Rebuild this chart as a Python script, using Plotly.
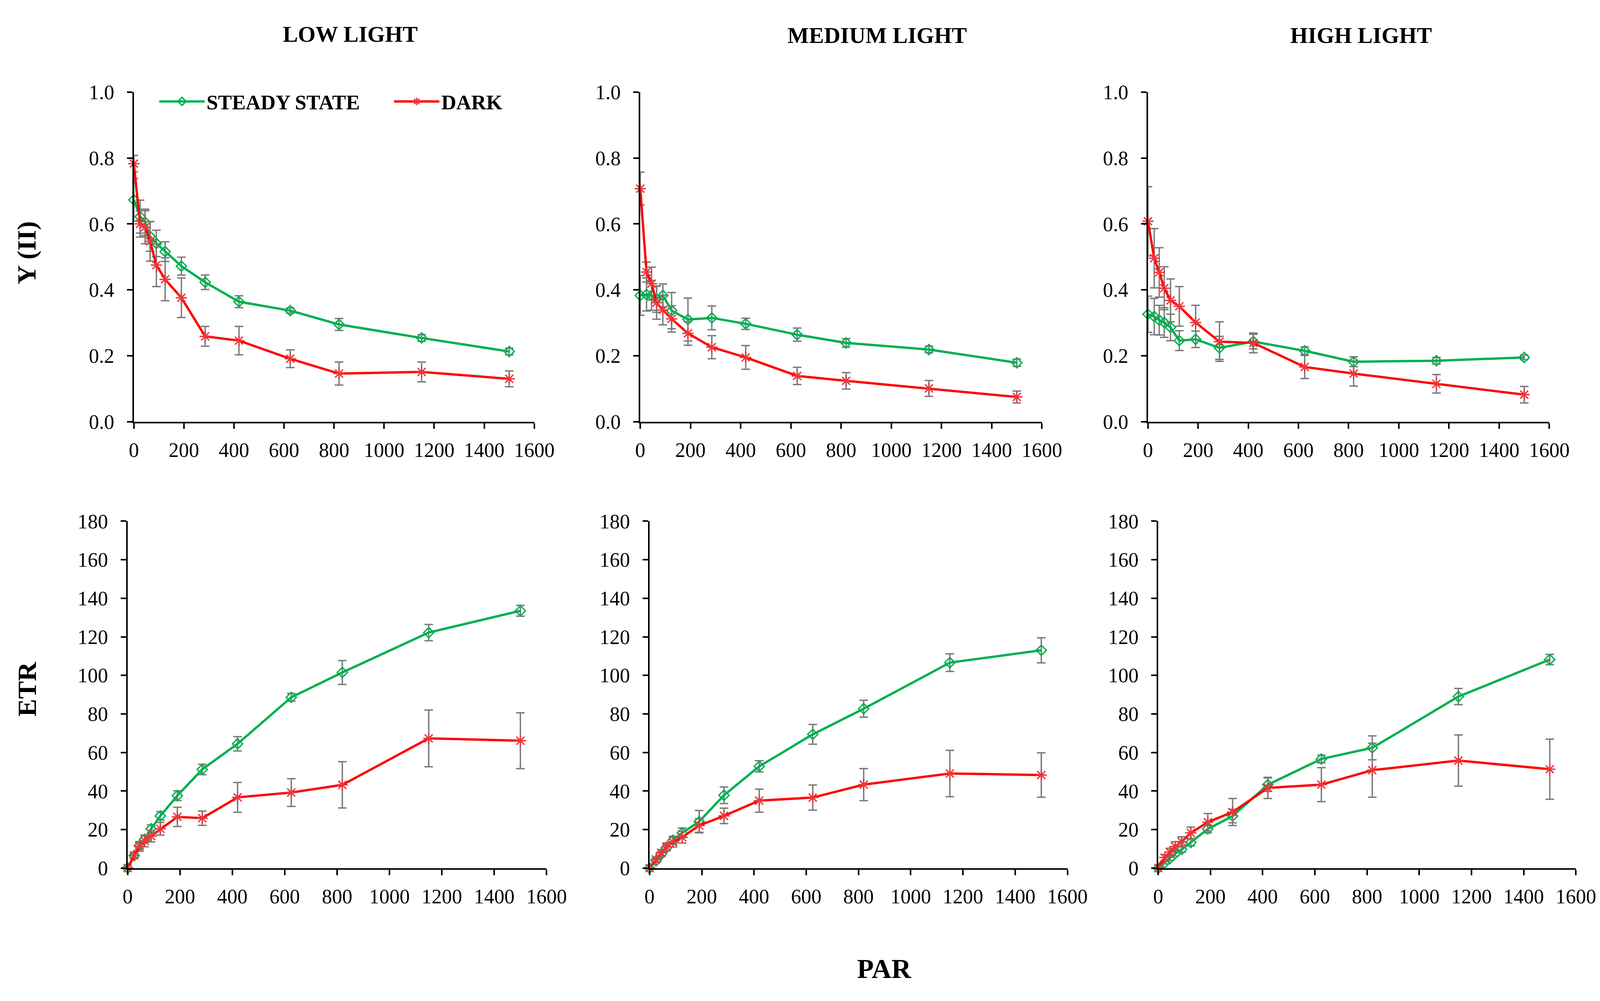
import plotly.graph_objects as go

# ---------------- data ----------------
PAR = [0, 25, 45, 65, 90, 125, 190, 285, 420, 625, 820, 1150, 1500]
panel_titles = ["LOW LIGHT", "MEDIUM LIGHT", "HIGH LIGHT"]
series_names = ["STEADY STATE", "DARK"]
x_ticks = [0, 200, 400, 600, 800, 1000, 1200, 1400, 1600]
y_ticks_top = [0.0, 0.2, 0.4, 0.6, 0.8, 1.0]
y_ticks_bottom = [0, 20, 40, 60, 80, 100, 120, 140, 160, 180]

# Y(II) - low light
yii_ss_low = [0.673, 0.622, 0.605, 0.562, 0.541, 0.516, 0.472, 0.423, 0.364, 0.337, 0.295, 0.254, 0.213]
yii_ss_low_err = [0.065, 0.05, 0.04, 0.045, 0.04, 0.03, 0.027, 0.022, 0.018, 0.008, 0.018, 0.01, 0.01]
yii_dk_low = [0.783, 0.600, 0.590, 0.547, 0.475, 0.432, 0.376, 0.259, 0.246, 0.191, 0.146, 0.151, 0.130]
yii_dk_low_err = [0.025, 0.04, 0.05, 0.06, 0.065, 0.065, 0.06, 0.03, 0.043, 0.027, 0.035, 0.03, 0.024]
# Y(II) - medium light
yii_ss_med = [0.383, 0.386, 0.383, 0.372, 0.383, 0.337, 0.310, 0.315, 0.297, 0.264, 0.239, 0.219, 0.179]
yii_ss_med_err = [0.06, 0.05, 0.045, 0.04, 0.035, 0.055, 0.065, 0.036, 0.017, 0.02, 0.013, 0.01, 0.011]
yii_dk_med = [0.707, 0.454, 0.419, 0.361, 0.339, 0.312, 0.268, 0.226, 0.195, 0.139, 0.124, 0.101, 0.075]
yii_dk_med_err = [0.05, 0.03, 0.05, 0.05, 0.045, 0.04, 0.036, 0.035, 0.036, 0.026, 0.025, 0.024, 0.018]
# Y(II) - high light
yii_ss_high = [0.326, 0.319, 0.308, 0.301, 0.286, 0.246, 0.250, 0.224, 0.243, 0.215, 0.182, 0.185, 0.195]
yii_ss_high_err = [0.055, 0.055, 0.045, 0.045, 0.04, 0.03, 0.025, 0.035, 0.022, 0.012, 0.015, 0.01, 0.007]
yii_dk_high = [0.608, 0.496, 0.453, 0.405, 0.368, 0.350, 0.301, 0.243, 0.239, 0.166, 0.146, 0.115, 0.082]
yii_dk_high_err = [0.105, 0.09, 0.075, 0.065, 0.065, 0.06, 0.052, 0.06, 0.03, 0.035, 0.038, 0.028, 0.025]

# ETR - low light
etr_ss_low = [0, 6.5, 11.6, 15.0, 20.4, 27.1, 37.6, 51.2, 64.5, 88.6, 101.5, 122.2, 133.5]
etr_ss_low_err = [0, 1.0, 1.5, 1.8, 2.0, 2.2, 2.5, 2.7, 3.7, 2.0, 6.2, 4.2, 2.8]
etr_dk_low = [0, 6.6, 11.3, 14.1, 16.6, 20.4, 26.6, 25.9, 36.7, 39.2, 43.2, 67.3, 66.1]
etr_dk_low_err = [0, 1.5, 2.5, 3.0, 3.0, 3.3, 5.0, 3.7, 7.7, 7.2, 12.0, 14.7, 14.5]
# ETR - medium light
etr_ss_med = [0, 3.8, 7.2, 10.5, 14.5, 18.3, 24.1, 37.8, 52.8, 69.4, 82.7, 106.6, 113.0]
etr_ss_med_err = [0, 0.8, 1.2, 1.5, 2.0, 2.5, 5.8, 4.3, 2.9, 5.1, 4.4, 4.6, 6.5]
etr_dk_med = [0, 4.5, 8.0, 11.0, 13.5, 16.0, 22.1, 27.1, 35.0, 36.6, 43.3, 49.1, 48.3]
etr_dk_med_err = [0, 1.0, 1.5, 2.0, 2.5, 3.0, 3.5, 4.0, 6.0, 6.5, 8.3, 12.0, 11.5]
# ETR - high light
etr_ss_high = [0, 2.8, 5.0, 7.5, 9.7, 13.3, 20.3, 27.0, 43.3, 56.6, 62.4, 89.0, 108.2]
etr_ss_high_err = [0, 0.6, 1.0, 1.2, 1.5, 1.8, 2.0, 3.5, 3.5, 2.0, 6.2, 4.2, 2.7]
etr_dk_high = [0, 5.5, 8.3, 11.2, 13.7, 18.3, 23.8, 29.1, 41.6, 43.3, 50.8, 55.8, 51.3]
etr_dk_high_err = [0, 1.5, 2.0, 2.5, 2.5, 3.0, 4.5, 7.0, 5.5, 8.8, 14.0, 13.3, 15.6]

# ---------------- styling ----------------
W, H = 4165, 2563
FONT = "Liberation Serif"
GREEN = "#00B050"
RED = "#FF0000"
ERR = "#7A7A7A"

panels = [
    (0, 0, yii_ss_low, yii_ss_low_err, yii_dk_low, yii_dk_low_err),
    (0, 1, yii_ss_med, yii_ss_med_err, yii_dk_med, yii_dk_med_err),
    (0, 2, yii_ss_high, yii_ss_high_err, yii_dk_high, yii_dk_high_err),
    (1, 0, etr_ss_low, etr_ss_low_err, etr_dk_low, etr_dk_low_err),
    (1, 1, etr_ss_med, etr_ss_med_err, etr_dk_med, etr_dk_med_err),
    (1, 2, etr_ss_high, etr_ss_high_err, etr_dk_high, etr_dk_high_err),
]

x_domains = [
    [[0.0804, 0.3304], [0.3966, 0.6474], [0.7136, 0.9642]],
    [[0.0765, 0.3381], [0.4024, 0.6633], [0.7200, 0.9808]],
]
y_domains = [[0.5803, 0.9171], [0.1242, 0.4787]]

fig = go.Figure()
layout = {}
for i, (r, c, ss, sse, dk, dke) in enumerate(panels):
    n = i + 1
    xa = "x" if n == 1 else f"x{n}"
    ya = "y" if n == 1 else f"y{n}"
    show = (n == 1)
    fig.add_trace(go.Scatter(
        x=PAR, y=ss, xaxis=xa, yaxis=ya, name=series_names[0],
        mode="lines+markers", showlegend=show, legendrank=1,
        line=dict(color=GREEN, width=6),
        marker=dict(symbol="diamond-open", size=20, color=GREEN, line=dict(width=3.5, color=GREEN)),
        error_y=dict(type="data", array=sse, visible=True, color=ERR, thickness=3.5, width=11),
        cliponaxis=False,
    ))
    fig.add_trace(go.Scatter(
        x=PAR, y=dk, xaxis=xa, yaxis=ya, name=series_names[1],
        mode="lines+markers", showlegend=show, legendrank=2,
        line=dict(color=RED, width=6),
        marker=dict(symbol="asterisk-open", size=24, color="#E8383D", line=dict(width=3.5, color="#E8383D")),
        error_y=dict(type="data", array=dke, visible=True, color=ERR, thickness=3.5, width=11),
        cliponaxis=False,
    ))
    axis_common = dict(
        showline=True, linecolor="black", linewidth=3.5,
        ticks="outside", tickcolor="black", ticklen=14, tickwidth=3.5,
        showgrid=False, zeroline=False,
        tickfont=dict(family=FONT, size=52, color="black"),
    )
    xkey = "xaxis" if n == 1 else f"xaxis{n}"
    ykey = "yaxis" if n == 1 else f"yaxis{n}"
    layout[xkey] = dict(axis_common, domain=x_domains[r][c], anchor=ya,
                        range=[0, 1600], tickvals=x_ticks, ticklabelstandoff=10)
    if r == 0:
        layout[ykey] = dict(axis_common, domain=y_domains[r], anchor=xa,
                            range=[0, 1], tickvals=y_ticks_top, tickformat=".1f",
                            ticklabelstandoff=22)
    else:
        layout[ykey] = dict(axis_common, domain=y_domains[r], anchor=xa,
                            range=[0, 180], tickvals=y_ticks_bottom,
                            ticklabelstandoff=22)

bold = dict(family=FONT, color="black", weight="bold")
annotations = [
    dict(text=panel_titles[0], x=897 / W, y=1 - 61 / H, font=dict(bold, size=58)),
    dict(text=panel_titles[1], x=2268 / W, y=1 - 64 / H, font=dict(bold, size=58)),
    dict(text=panel_titles[2], x=3527 / W, y=1 - 64 / H, font=dict(bold, size=58)),
    dict(text="Y (II)", x=56 / W, y=1 - 633 / H, textangle=-90, font=dict(bold, size=68)),
    dict(text="ETR", x=56 / W, y=1 - 1776 / H, textangle=-90, font=dict(bold, size=68)),
    dict(text="PAR", x=2287 / W, y=1 - 2508 / H, font=dict(bold, size=70)),
]
for a in annotations:
    a.update(xref="paper", yref="paper", showarrow=False, xanchor="center", yanchor="middle")

fig.update_layout(
    width=W, height=H,
    margin=dict(l=0, r=0, t=0, b=0),
    paper_bgcolor="white", plot_bgcolor="white",
    annotations=annotations,
    legend=dict(
        orientation="h", x=396 / W, xanchor="left", y=1 - 237 / H, yanchor="middle",
        font=dict(bold, size=53), itemwidth=116, entrywidth=470,
        bgcolor="rgba(0,0,0,0)", borderwidth=0,
    ),
    **layout,
)

fig.write_html(
    "out.html",
    config={"displayModeBar": False},
    post_script="document.body.style.margin='0px'; document.body.style.overflow='hidden';",
)
